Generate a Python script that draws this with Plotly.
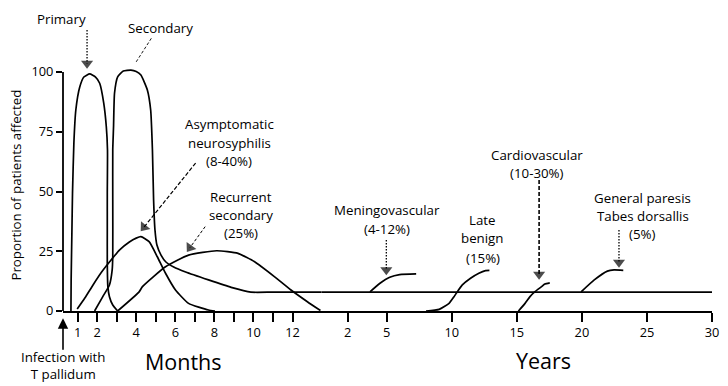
import plotly.graph_objects as go

# ---------------- data (months axis: time in months, years axis: time in years, values in %) ----------------
PRIMARY_M = [0.66, 0.67, 0.71, 0.74, 0.81, 0.91, 1.11, 1.32, 1.62, 1.92, 2.13, 2.34, 2.47, 2.53, 2.52, 2.52, 2.52, 2.55, 2.63, 2.80, 3.05]
PRIMARY_V = [0, 13, 33.9, 49.4, 70.3, 84.1, 93.7, 97.9, 99.2, 97.9, 95.3, 86.9, 77.1, 67.4, 49.4, 33.9, 20.1, 10.2, 6.0, 2.5, 0]

SECONDARY_M = [1.87, 2.29, 2.63, 2.77, 2.80, 2.80, 2.80, 2.84, 2.89, 3.05, 3.34, 3.73, 4.00, 4.24, 4.57, 4.74,
               4.83, 4.89, 4.96, 5.06, 5.27, 5.52, 5.92, 6.53, 7.70, 8.86, 9.87, 11.0, 13.6]
SECONDARY_V = [0, 6.0, 10.9, 17.2, 22.7, 46.4, 67.4, 77.1, 91.1, 98.0, 100.4, 100.8, 100.2, 98.7, 92.5, 84.1,
               67.4, 46.4, 33.9, 27.6, 23.4, 20.5, 18.4, 16.3, 13.0, 9.9, 7.9, 7.9, 7.9]

ASYMPT_M = [0.98, 1.37, 1.79, 2.23, 2.63, 3.14, 3.65, 4.00, 4.24, 4.66, 5.08, 5.50, 6.01, 6.68, 7.70, 8.03]
ASYMPT_V = [0.8, 5.4, 10.9, 16.3, 20.5, 25.5, 28.9, 30.5, 31.1, 29.0, 22.7, 15.8, 8.8, 3.2, 0.4, 0]

RECURRENT_M = [3.05, 4.15, 4.32, 5.50, 6.68, 8.12, 9.21, 10.06, 11.07, 11.92, 12.76, 13.43]
RECURRENT_V = [0, 8.0, 10.2, 18.5, 23.4, 25.2, 24.1, 20.6, 14.4, 8.8, 3.9, 0.2]

LATENT_Y = [0, 30]
LATENT_V = [7.9, 7.9]

MENINGO_Y = [3.71, 4.48, 5.23, 5.99, 7.26]
MENINGO_V = [8.0, 11.6, 14.1, 15.2, 15.5]

LATE_BENIGN_Y = [8.02, 9.03, 9.79, 10.17, 10.43, 10.81, 11.44, 12.08, 12.59, 12.89]
LATE_BENIGN_V = [0, 0.7, 3.2, 6.0, 8.1, 10.9, 13.7, 15.8, 16.9, 17.0]

CARDIO_Y = [15.12, 15.63, 16.01, 16.39, 16.90, 17.15, 17.53]
CARDIO_V = [0, 3.2, 6.0, 8.1, 10.2, 11.3, 11.8]

PARESIS_Y = [19.94, 20.95, 21.96, 22.47, 23.18]
PARESIS_V = [8.0, 13.0, 16.7, 17.2, 17.0]

MONTH_TICKS = [1, 2, 3, 4, 5, 6, 7, 8, 9, 10, 11, 12]
MONTH_LABELS = ["1", "2", "", "4", "", "6", "", "8", "", "10", "", "12"]
YEAR_TICKS = [2, 5, 10, 15, 20, 25, 30]
YEAR_LABELS = ["2", "5", "10", "15", "20", "25", "30"]
Y_TICKS = [0, 25, 50, 75, 100]
Y_LABELS = ["0", "25", "50", "75", "100"]

FONT = "Open Sans"
BLACK = "#000000"
LW = 1.7
TXT = 13.3

fig = go.Figure()


def curve(xs, ys, axis="x"):
    fig.add_trace(go.Scatter(x=xs, y=ys, xaxis=axis, yaxis="y", mode="lines",
                             line=dict(color=BLACK, width=LW, shape="spline", smoothing=0.5),
                             hoverinfo="skip", showlegend=False))


curve(PRIMARY_M, PRIMARY_V)
curve(SECONDARY_M, SECONDARY_V)
curve(ASYMPT_M, ASYMPT_V)
curve(RECURRENT_M, RECURRENT_V)
curve(LATENT_Y, LATENT_V, "x2")
curve(MENINGO_Y, MENINGO_V, "x2")
curve(LATE_BENIGN_Y, LATE_BENIGN_V, "x2")
curve(CARDIO_Y, CARDIO_V, "x2")
curve(PARESIS_Y, PARESIS_V, "x2")


def pointer(xs, ys, axis="x", dash="4px,2px", width=1.2, head=True):
    fig.add_trace(go.Scatter(x=xs, y=ys, xaxis=axis, yaxis="y",
                             mode="lines+markers" if head else "lines",
                             line=dict(color=BLACK, width=width, dash=dash),
                             marker=dict(symbol="triangle-up", size=[0, 10.5], color=BLACK,
                                         angleref="previous", line=dict(width=0)),
                             cliponaxis=False, hoverinfo="skip", showlegend=False))


pointer([1.484, 1.484], [117.6, 103.6], dash="1.5px,1.5px", width=1.3)
pointer([4.775, 3.949], [114.1, 103.6], dash="3px,2px", width=0.9, head=False)
pointer([7.04, 4.40], [61.9, 35.1], dash="4px,2px", width=1.2)
pointer([7.53, 6.75], [35.3, 26.5], dash="3px,2px", width=1.0)
pointer([4.966, 4.966], [29.7, 17.2], "x2", dash="1.5px,1.5px", width=1.3)
pointer([16.71, 16.71], [54.8, 15.3], "x2", dash="4px,2px", width=1.6)
pointer([22.85, 22.85], [33.9, 20.3], "x2", dash="1.5px,1.5px", width=1.3)

annotations = []


def label(text, x, y, xref="x", yref="y", size=TXT, yanchor="middle", **kw):
    annotations.append(dict(text=text, x=x, y=y, xref=xref, yref=yref, showarrow=False,
                            xanchor="center", yanchor=yanchor,
                            font=dict(family=FONT, size=size, color=BLACK), **kw))


label("Primary", -0.0026, 122.0, "paper")
label("Secondary", 5.225, 118.3)
label("Asymptomatic", 8.76, 78.2)
label("neurosyphilis", 8.76, 70.2)
label("(8-40%)", 8.76, 62.8)
label("Recurrent", 9.37, 47.8)
label("secondary", 9.37, 40.2)
label("(25%)", 9.37, 32.5)
label("Meningovascular", 4.98, 42.3, "x2")
label("(4-12%)", 4.98, 34.3, "x2")
label("Late", 12.36, 38.1, "x2")
label("benign", 12.36, 30.4, "x2")
label("(15%)", 12.36, 22.3, "x2")
label("Cardiovascular", 16.58, 65.3, "x2")
label("(10-30%)", 16.58, 57.6, "x2")
label("General paresis", 24.68, 47.2, "x2")
label("Tabes dorsallis", 24.68, 39.7, "x2")
label("(5%)", 24.68, 32.2, "x2")
label("Proportion of patients affected", -0.0716, 52.7, "paper", textangle=-90)
label("Months", 0.186, -0.1694, "paper", "paper", size=21.5)
label("Years", 0.7405, -0.1661, "paper", "paper", size=21.5)
label("Infection with<br>T pallidum", 0.0, -0.2475, "paper", "paper", yanchor="bottom")
annotations.append(dict(x=0, y=-0.0243, xref="paper", yref="paper", text="", showarrow=True,
                        ax=0, ay=33, axref="pixel", ayref="pixel", arrowhead=2, arrowsize=1.3,
                        arrowwidth=1.6, arrowcolor=BLACK))

D = 0.39863
tickfont = dict(family=FONT, size=12.8, color=BLACK)
axis_common = dict(ticks="outside", ticklen=9, tickwidth=1.5, tickcolor=BLACK, showline=True,
                   linecolor=BLACK, linewidth=1.8, showgrid=False, zeroline=False, tickfont=tickfont,
                   anchor="y")
fig.update_layout(
    width=728, height=386, margin=dict(l=63, r=9, t=10, b=75),
    paper_bgcolor="white", plot_bgcolor="white",
    annotations=annotations,
    xaxis=dict(domain=[0, D], range=[0.2532, 13.494], tickvals=MONTH_TICKS, ticktext=MONTH_LABELS,
               **axis_common),
    xaxis2=dict(domain=[D, 1], range=[0, 30], tickvals=YEAR_TICKS, ticktext=YEAR_LABELS, **axis_common),
    yaxis=dict(range=[0, 125.94], tickvals=Y_TICKS, ticktext=Y_LABELS, ticks="outside", ticklen=6,
               tickwidth=1.5, tickcolor=BLACK, showline=False, showgrid=False, zeroline=False,
               tickfont=tickfont, anchor="x"),
    shapes=[dict(type="line", xref="x domain", yref="y", x0=0, x1=0, y0=0, y1=100,
                 line=dict(color=BLACK, width=1.8))],
)

# remove the browser's default 8px page margin so the figure fills the window exactly
fig.write_html("out.html", config={"displayModeBar": False},
               post_script="document.body.style.margin='0';document.body.style.overflow='hidden';")
